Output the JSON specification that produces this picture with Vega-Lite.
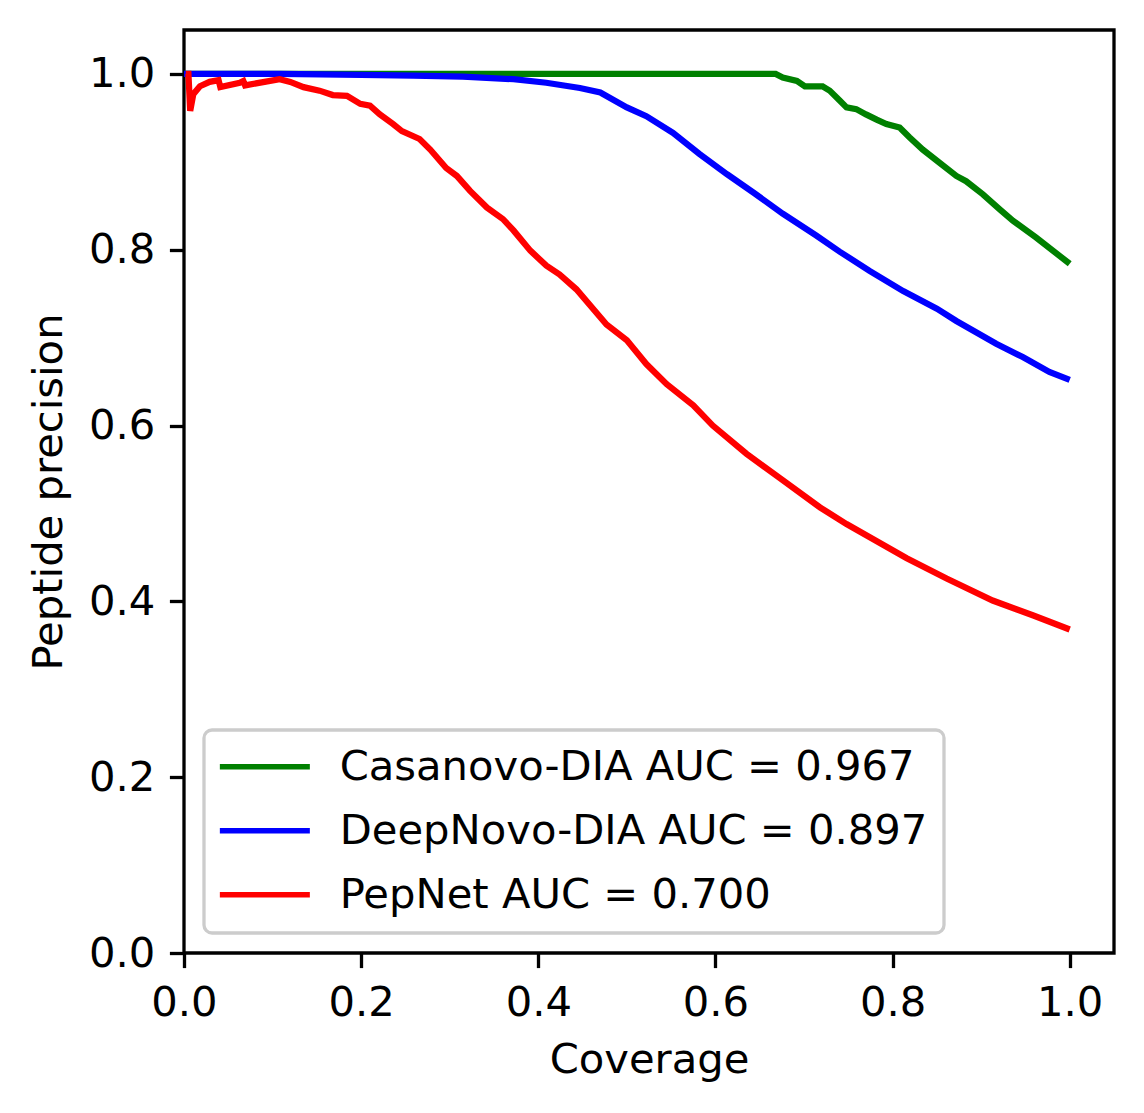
{
  "$schema": "https://vega.github.io/schema/vega-lite/v6.json",
  "autosize": "none",
  "width": 930,
  "height": 923,
  "padding": {"left": 184, "top": 30, "right": 30, "bottom": 160},
  "background": "white",
  "config": {
    "font": "DejaVu Sans",
    "view": {"stroke": "black", "strokeWidth": 3.3},
    "axis": {
      "grid": false,
      "domain": false,
      "labelFlush": false,
      "tickColor": "black",
      "tickWidth": 3.3,
      "tickSize": 14.6,
      "labelFont": "DejaVu Sans",
      "labelFontSize": 41.7,
      "labelColor": "black",
      "labelPadding": 14.6,
      "titleFont": "DejaVu Sans",
      "titleFontSize": 41.7,
      "titleFontWeight": "normal",
      "titleColor": "black"
    }
  },
  "data": {
    "values": [
      {"model": "Casanovo-DIA AUC = 0.967", "coverage": 0.0, "precision": 1.0},
      {"model": "Casanovo-DIA AUC = 0.967", "coverage": 0.3, "precision": 1.0},
      {"model": "Casanovo-DIA AUC = 0.967", "coverage": 0.668, "precision": 1.0},
      {"model": "Casanovo-DIA AUC = 0.967", "coverage": 0.676, "precision": 0.996},
      {"model": "Casanovo-DIA AUC = 0.967", "coverage": 0.692, "precision": 0.992},
      {"model": "Casanovo-DIA AUC = 0.967", "coverage": 0.701, "precision": 0.986},
      {"model": "Casanovo-DIA AUC = 0.967", "coverage": 0.721, "precision": 0.986},
      {"model": "Casanovo-DIA AUC = 0.967", "coverage": 0.729, "precision": 0.981},
      {"model": "Casanovo-DIA AUC = 0.967", "coverage": 0.740, "precision": 0.970},
      {"model": "Casanovo-DIA AUC = 0.967", "coverage": 0.748, "precision": 0.962},
      {"model": "Casanovo-DIA AUC = 0.967", "coverage": 0.759, "precision": 0.960},
      {"model": "Casanovo-DIA AUC = 0.967", "coverage": 0.770, "precision": 0.954},
      {"model": "Casanovo-DIA AUC = 0.967", "coverage": 0.782, "precision": 0.948},
      {"model": "Casanovo-DIA AUC = 0.967", "coverage": 0.793, "precision": 0.943},
      {"model": "Casanovo-DIA AUC = 0.967", "coverage": 0.808, "precision": 0.939},
      {"model": "Casanovo-DIA AUC = 0.967", "coverage": 0.819, "precision": 0.928},
      {"model": "Casanovo-DIA AUC = 0.967", "coverage": 0.834, "precision": 0.914},
      {"model": "Casanovo-DIA AUC = 0.967", "coverage": 0.853, "precision": 0.899},
      {"model": "Casanovo-DIA AUC = 0.967", "coverage": 0.872, "precision": 0.884},
      {"model": "Casanovo-DIA AUC = 0.967", "coverage": 0.883, "precision": 0.878},
      {"model": "Casanovo-DIA AUC = 0.967", "coverage": 0.902, "precision": 0.863},
      {"model": "Casanovo-DIA AUC = 0.967", "coverage": 0.921, "precision": 0.846},
      {"model": "Casanovo-DIA AUC = 0.967", "coverage": 0.936, "precision": 0.833},
      {"model": "Casanovo-DIA AUC = 0.967", "coverage": 0.962, "precision": 0.814},
      {"model": "Casanovo-DIA AUC = 0.967", "coverage": 1.0, "precision": 0.784},

      {"model": "DeepNovo-DIA AUC = 0.897", "coverage": 0.0, "precision": 1.0},
      {"model": "DeepNovo-DIA AUC = 0.897", "coverage": 0.108, "precision": 1.0},
      {"model": "DeepNovo-DIA AUC = 0.897", "coverage": 0.2, "precision": 0.999},
      {"model": "DeepNovo-DIA AUC = 0.897", "coverage": 0.259, "precision": 0.998},
      {"model": "DeepNovo-DIA AUC = 0.897", "coverage": 0.315, "precision": 0.997},
      {"model": "DeepNovo-DIA AUC = 0.897", "coverage": 0.372, "precision": 0.994},
      {"model": "DeepNovo-DIA AUC = 0.897", "coverage": 0.409, "precision": 0.990},
      {"model": "DeepNovo-DIA AUC = 0.897", "coverage": 0.447, "precision": 0.984},
      {"model": "DeepNovo-DIA AUC = 0.897", "coverage": 0.470, "precision": 0.979},
      {"model": "DeepNovo-DIA AUC = 0.897", "coverage": 0.500, "precision": 0.962},
      {"model": "DeepNovo-DIA AUC = 0.897", "coverage": 0.522, "precision": 0.952},
      {"model": "DeepNovo-DIA AUC = 0.897", "coverage": 0.552, "precision": 0.933},
      {"model": "DeepNovo-DIA AUC = 0.897", "coverage": 0.582, "precision": 0.909},
      {"model": "DeepNovo-DIA AUC = 0.897", "coverage": 0.613, "precision": 0.886},
      {"model": "DeepNovo-DIA AUC = 0.897", "coverage": 0.643, "precision": 0.865},
      {"model": "DeepNovo-DIA AUC = 0.897", "coverage": 0.676, "precision": 0.841},
      {"model": "DeepNovo-DIA AUC = 0.897", "coverage": 0.714, "precision": 0.816},
      {"model": "DeepNovo-DIA AUC = 0.897", "coverage": 0.740, "precision": 0.798},
      {"model": "DeepNovo-DIA AUC = 0.897", "coverage": 0.774, "precision": 0.776},
      {"model": "DeepNovo-DIA AUC = 0.897", "coverage": 0.812, "precision": 0.753},
      {"model": "DeepNovo-DIA AUC = 0.897", "coverage": 0.850, "precision": 0.733},
      {"model": "DeepNovo-DIA AUC = 0.897", "coverage": 0.872, "precision": 0.719},
      {"model": "DeepNovo-DIA AUC = 0.897", "coverage": 0.917, "precision": 0.693},
      {"model": "DeepNovo-DIA AUC = 0.897", "coverage": 0.947, "precision": 0.678},
      {"model": "DeepNovo-DIA AUC = 0.897", "coverage": 0.977, "precision": 0.661},
      {"model": "DeepNovo-DIA AUC = 0.897", "coverage": 1.0, "precision": 0.652},

      {"model": "PepNet AUC = 0.700", "coverage": 0.002, "precision": 1.0},
      {"model": "PepNet AUC = 0.700", "coverage": 0.005, "precision": 1.0},
      {"model": "PepNet AUC = 0.700", "coverage": 0.007, "precision": 0.958},
      {"model": "PepNet AUC = 0.700", "coverage": 0.0105, "precision": 0.977},
      {"model": "PepNet AUC = 0.700", "coverage": 0.018, "precision": 0.986},
      {"model": "PepNet AUC = 0.700", "coverage": 0.029, "precision": 0.991},
      {"model": "PepNet AUC = 0.700", "coverage": 0.039, "precision": 0.993},
      {"model": "PepNet AUC = 0.700", "coverage": 0.041, "precision": 0.985},
      {"model": "PepNet AUC = 0.700", "coverage": 0.063, "precision": 0.990},
      {"model": "PepNet AUC = 0.700", "coverage": 0.067, "precision": 0.992},
      {"model": "PepNet AUC = 0.700", "coverage": 0.069, "precision": 0.987},
      {"model": "PepNet AUC = 0.700", "coverage": 0.108, "precision": 0.994},
      {"model": "PepNet AUC = 0.700", "coverage": 0.120, "precision": 0.991},
      {"model": "PepNet AUC = 0.700", "coverage": 0.135, "precision": 0.985},
      {"model": "PepNet AUC = 0.700", "coverage": 0.153, "precision": 0.981},
      {"model": "PepNet AUC = 0.700", "coverage": 0.168, "precision": 0.976},
      {"model": "PepNet AUC = 0.700", "coverage": 0.184, "precision": 0.975},
      {"model": "PepNet AUC = 0.700", "coverage": 0.199, "precision": 0.966},
      {"model": "PepNet AUC = 0.700", "coverage": 0.210, "precision": 0.964},
      {"model": "PepNet AUC = 0.700", "coverage": 0.221, "precision": 0.954},
      {"model": "PepNet AUC = 0.700", "coverage": 0.236, "precision": 0.943},
      {"model": "PepNet AUC = 0.700", "coverage": 0.246, "precision": 0.935},
      {"model": "PepNet AUC = 0.700", "coverage": 0.266, "precision": 0.926},
      {"model": "PepNet AUC = 0.700", "coverage": 0.278, "precision": 0.914},
      {"model": "PepNet AUC = 0.700", "coverage": 0.296, "precision": 0.893},
      {"model": "PepNet AUC = 0.700", "coverage": 0.308, "precision": 0.884},
      {"model": "PepNet AUC = 0.700", "coverage": 0.323, "precision": 0.867},
      {"model": "PepNet AUC = 0.700", "coverage": 0.342, "precision": 0.848},
      {"model": "PepNet AUC = 0.700", "coverage": 0.360, "precision": 0.835},
      {"model": "PepNet AUC = 0.700", "coverage": 0.372, "precision": 0.822},
      {"model": "PepNet AUC = 0.700", "coverage": 0.391, "precision": 0.799},
      {"model": "PepNet AUC = 0.700", "coverage": 0.409, "precision": 0.782},
      {"model": "PepNet AUC = 0.700", "coverage": 0.424, "precision": 0.772},
      {"model": "PepNet AUC = 0.700", "coverage": 0.443, "precision": 0.755},
      {"model": "PepNet AUC = 0.700", "coverage": 0.477, "precision": 0.715},
      {"model": "PepNet AUC = 0.700", "coverage": 0.500, "precision": 0.697},
      {"model": "PepNet AUC = 0.700", "coverage": 0.522, "precision": 0.670},
      {"model": "PepNet AUC = 0.700", "coverage": 0.545, "precision": 0.647},
      {"model": "PepNet AUC = 0.700", "coverage": 0.575, "precision": 0.623},
      {"model": "PepNet AUC = 0.700", "coverage": 0.597, "precision": 0.600},
      {"model": "PepNet AUC = 0.700", "coverage": 0.635, "precision": 0.568},
      {"model": "PepNet AUC = 0.700", "coverage": 0.673, "precision": 0.540},
      {"model": "PepNet AUC = 0.700", "coverage": 0.718, "precision": 0.507},
      {"model": "PepNet AUC = 0.700", "coverage": 0.748, "precision": 0.488},
      {"model": "PepNet AUC = 0.700", "coverage": 0.816, "precision": 0.449},
      {"model": "PepNet AUC = 0.700", "coverage": 0.861, "precision": 0.426},
      {"model": "PepNet AUC = 0.700", "coverage": 0.913, "precision": 0.401},
      {"model": "PepNet AUC = 0.700", "coverage": 0.959, "precision": 0.384},
      {"model": "PepNet AUC = 0.700", "coverage": 1.0, "precision": 0.368}
    ]
  },
  "mark": {"type": "line", "strokeWidth": 6.25, "clip": true},
  "encoding": {
    "x": {
      "field": "coverage",
      "type": "quantitative",
      "scale": {"domain": [0, 1.05], "nice": false, "zero": false},
      "axis": {"title": "Coverage", "values": [0, 0.2, 0.4, 0.6, 0.8, 1.0], "format": ".1f", "titlePadding": 16}
    },
    "y": {
      "field": "precision",
      "type": "quantitative",
      "scale": {"domain": [0, 1.05], "nice": false, "zero": false},
      "axis": {"title": "Peptide precision", "values": [0, 0.2, 0.4, 0.6, 0.8, 1.0], "format": ".1f", "titlePadding": 18}
    },
    "color": {
      "field": "model",
      "type": "nominal",
      "scale": {
        "domain": ["Casanovo-DIA AUC = 0.967", "DeepNovo-DIA AUC = 0.897", "PepNet AUC = 0.700"],
        "range": ["#008000", "#0000ff", "#ff0000"]
      },
      "legend": {
        "title": null,
        "orient": "none",
        "legendX": 20,
        "legendY": 700,
        "symbolType": "M-3,0H3",
        "symbolSize": 900,
        "symbolStrokeWidth": 5.5,
        "symbolOffset": 24,
        "labelOffset": 54,
        "labelFont": "DejaVu Sans",
        "labelFontSize": 41.7,
        "labelColor": "black",
        "labelLimit": 1000,
        "rowPadding": 21,
        "padding": 16,
        "fillColor": "rgba(255,255,255,0.8)",
        "strokeColor": "#cccccc",
        "cornerRadius": 8,
        "encode": {"legend": {"update": {"strokeWidth": {"value": 3.3}}}}
      }
    }
  }
}
